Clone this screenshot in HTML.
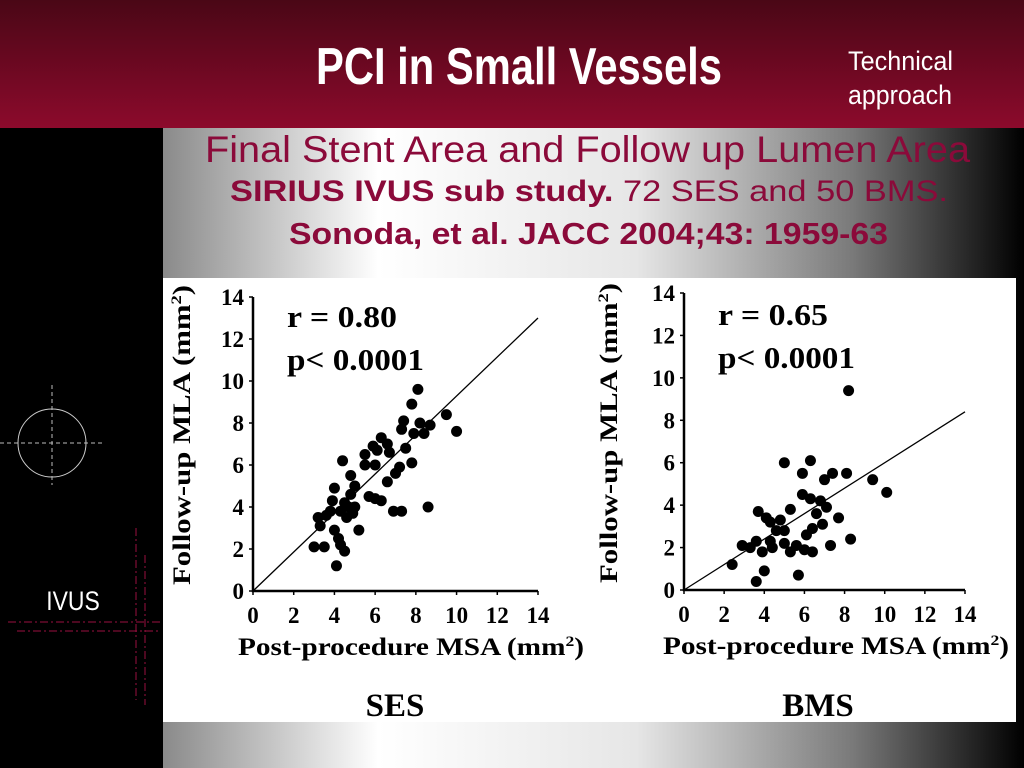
<!DOCTYPE html>
<html><head><meta charset="utf-8">
<style>
html,body{margin:0;padding:0;width:1024px;height:768px;overflow:hidden;background:#000;}
#root{position:relative;width:1024px;height:768px;}
</style></head>
<body>
<div id="root">
<svg width="1024" height="768" viewBox="0 0 1024 768" xmlns="http://www.w3.org/2000/svg">
<defs>
<linearGradient id="hdr" x1="0" y1="0" x2="0" y2="1">
<stop offset="0" stop-color="#4a0716"/><stop offset="1" stop-color="#8c0a2c"/></linearGradient>
<linearGradient id="bg" x1="0" y1="0" x2="1" y2="0">
<stop offset="0" stop-color="#8a8a8a"/><stop offset="0.25" stop-color="#ffffff"/><stop offset="0.55" stop-color="#e6e6e6"/><stop offset="0.8" stop-color="#7a7a7a"/><stop offset="1" stop-color="#000"/></linearGradient>
</defs>
<rect x="0" y="0" width="1024" height="128" fill="url(#hdr)"/>
<rect x="163" y="128" width="861" height="640" fill="url(#bg)"/>
<text x="316" y="84" fill="#fff" font-family="Liberation Sans, sans-serif" font-weight="bold" font-size="52" textLength="406" lengthAdjust="spacingAndGlyphs">PCI in Small Vessels</text>
<text x="848" y="70" fill="#fff" font-family="Liberation Sans, sans-serif" font-size="27" textLength="105" lengthAdjust="spacingAndGlyphs">Technical</text>
<text x="848" y="104" fill="#fff" font-family="Liberation Sans, sans-serif" font-size="27" textLength="104" lengthAdjust="spacingAndGlyphs">approach</text>
<text x="205" y="162" fill="#8b0a3a" font-family="Liberation Sans, sans-serif" font-size="37" textLength="765" lengthAdjust="spacingAndGlyphs">Final Stent Area and Follow up Lumen Area</text>
<text x="230" y="201" fill="#8b0a3a" font-family="Liberation Sans, sans-serif" font-size="30" textLength="718" lengthAdjust="spacingAndGlyphs"><tspan font-weight="bold">SIRIUS IVUS sub study.</tspan>  72 SES and 50 BMS.</text>
<text x="289" y="244" fill="#8b0a3a" font-family="Liberation Sans, sans-serif" font-size="31" font-weight="bold" textLength="599" lengthAdjust="spacingAndGlyphs">Sonoda, et al. JACC 2004;43: 1959-63</text>
<g>
<circle cx="52" cy="443" r="34" fill="none" stroke="#ccc" stroke-width="1"/>
<line x1="52" y1="385" x2="52" y2="485" stroke="#bbb" stroke-dasharray="4 3"/>
<line x1="0" y1="443" x2="102" y2="443" stroke="#bbb" stroke-dasharray="4 3"/>
<line x1="136" y1="528" x2="136" y2="700" stroke="#9a1040" stroke-dasharray="8 3 2 3"/>
<line x1="145" y1="555" x2="145" y2="705" stroke="#9a1040" stroke-dasharray="8 3 2 3"/>
<line x1="8" y1="622" x2="160" y2="622" stroke="#9a1040" stroke-dasharray="8 3 2 3"/>
<line x1="17" y1="631" x2="160" y2="631" stroke="#9a1040" stroke-dasharray="8 3 2 3"/>
</g>
<text x="73" y="610" fill="#fff" font-family="Liberation Sans, sans-serif" font-size="27" text-anchor="middle" transform="translate(73 0) scale(0.85 1) translate(-73 0)">IVUS</text>
<rect x="163" y="278" width="853" height="444" fill="#fff"/>
<g id="charts"></g>
</svg>
</div>
<script>
const ticks=[0,2,4,6,8,10,12,14];
const sesX=[3.2,3.0,3.5,3.3,3.8,3.9,4.0,4.2,4.3,4.5,4.1,4.0,4.3,4.5,4.7,4.9,4.8,4.4,4.8,5.0,5.2,5.5,5.7,6.0,6.3,5.5,6.1,6.3,6.6,6.7,6.6,7.0,7.2,6.9,7.3,7.8,7.5,7.3,7.4,7.8,8.1,7.9,8.2,8.4,8.7,9.5,10.0,8.6,5.9,6.0,5.0,4.6,3.6];
const sesY=[3.5,2.1,2.1,3.1,3.8,4.3,2.9,2.5,2.2,1.9,1.2,4.9,3.8,4.2,4.0,3.7,4.6,6.2,5.5,5.0,2.9,6.0,4.5,4.4,4.3,6.5,6.7,7.3,7.0,6.6,5.2,5.6,5.9,3.8,3.8,6.1,6.8,7.7,8.1,8.9,9.6,7.5,8.0,7.5,7.9,8.4,7.6,4.0,6.9,6.0,4.0,3.5,3.6];
const bmsX=[8.2,5.0,6.3,5.9,7.4,8.1,7.0,9.4,10.1,5.9,6.3,7.1,7.7,5.3,6.6,3.7,4.3,4.8,5.0,6.4,6.9,4.3,5.0,5.6,6.0,6.4,3.6,2.9,3.3,3.9,4.4,7.3,8.3,2.4,4.0,5.7,3.6,5.3,6.1,4.6,4.1,6.8];
const bmsY=[9.4,6.0,6.1,5.5,5.5,5.5,5.2,5.2,4.6,4.5,4.3,3.9,3.4,3.8,3.6,3.7,3.2,3.3,2.8,2.9,3.1,2.3,2.2,2.1,1.9,1.8,2.3,2.1,2.0,1.8,2.0,2.1,2.4,1.2,0.9,0.7,0.4,1.8,2.6,2.8,3.4,4.2];
const sesFit=[0,14,0,13];
const bmsFit=[0,14,0,8.4];
const NS='http://www.w3.org/2000/svg';
const g=document.getElementById('charts');
function mk(t,a,p){const e=document.createElementNS(NS,t);for(const k in a)e.setAttribute(k,a[k]);(p||g).appendChild(e);return e;}
function chart(o){
 const sx=v=>o.x0+(o.x1-o.x0)*v/14, sy=v=>o.y0-(o.y0-o.y1)*v/14;
 const c=mk('g',{});
 
 
 const F={'font-family':'Liberation Serif, serif','font-weight':'bold',fill:'#000'};
 const ax=mk('path',{d:`M${o.x0},${sy(14)}V${o.y0}H${sx(14)}`,stroke:'#000','stroke-width':2.5,fill:'none'},c);
 
 
 ticks.forEach(t=>{
  mk('line',{x1:o.x0-4,x2:o.x0,y1:sy(t),y2:sy(t),stroke:'#000','stroke-width':1.5},c);
  mk('line',{x1:sx(t),x2:sx(t),y1:o.y0,y2:o.y0+4,stroke:'#000','stroke-width':1.5},c);
  const yl=mk('text',Object.assign({x:o.x0-9,y:sy(t)+8,'font-size':23,'text-anchor':'end'},F),c);yl.textContent=t;
  
  
  const xl=mk('text',Object.assign({x:sx(t),y:o.y0+32,'font-size':23,'text-anchor':'middle'},F),c);xl.textContent=t;
  
  
 });
 const fl=mk('line',{x1:sx(o.fit[0]),y1:sy(o.fit[2]),x2:sx(o.fit[1]),y2:sy(o.fit[3]),stroke:'#000','stroke-width':1.3},c);
 
 
 o.xs.forEach((v,i)=>{const p=mk('circle',{cx:sx(v),cy:sy(o.ys[i]),r:5.5,fill:'#000'},c);
  
  });
 const r=mk('text',Object.assign({x:o.x0+34,y:o.ry,'font-size':31,textLength:110,lengthAdjust:'spacingAndGlyphs'},F),c);r.textContent=o.r;
 
 const pv=mk('text',Object.assign({x:o.x0+34,y:o.ry+43,'font-size':31,textLength:137,lengthAdjust:'spacingAndGlyphs'},F),c);pv.textContent='p< 0.0001';
 
 const xt=mk('text',Object.assign({x:o.xtx,y:o.y0+64,'font-size':25,'text-anchor':'middle',textLength:346,lengthAdjust:'spacingAndGlyphs'},F),c);
 xt.innerHTML='Post-procedure MSA (mm<tspan dy="-9" font-size="15">2</tspan><tspan dy="9">)</tspan>';
 
 const yx=o.ytx, yy=o.yty;
 const yt=mk('text',Object.assign({x:yx,y:yy,'font-size':25,'text-anchor':'middle',textLength:300,lengthAdjust:'spacingAndGlyphs',transform:`rotate(-90 ${yx} ${yy})`},F),c);
 yt.innerHTML='Follow-up MLA  (mm<tspan dy="-9" font-size="15">2</tspan><tspan dy="9">)</tspan>';
 
 const lb=mk('text',Object.assign({x:o.lx,y:716,'font-size':33,'text-anchor':'middle'},F),c);lb.textContent=o.label;
 
}
chart({name:'ses',x0:253,x1:538,y0:591,y1:297,xs:sesX,ys:sesY,fit:sesFit,r:'r = 0.80',label:'SES',lx:395,ry:327,xtx:411,ytx:190,yty:435});
chart({name:'bms',x0:684,x1:965,y0:590,y1:293,xs:bmsX,ys:bmsY,fit:bmsFit,r:'r = 0.65',label:'BMS',lx:818,ry:325,xtx:836,ytx:617,yty:433});
</script>
</body></html>
